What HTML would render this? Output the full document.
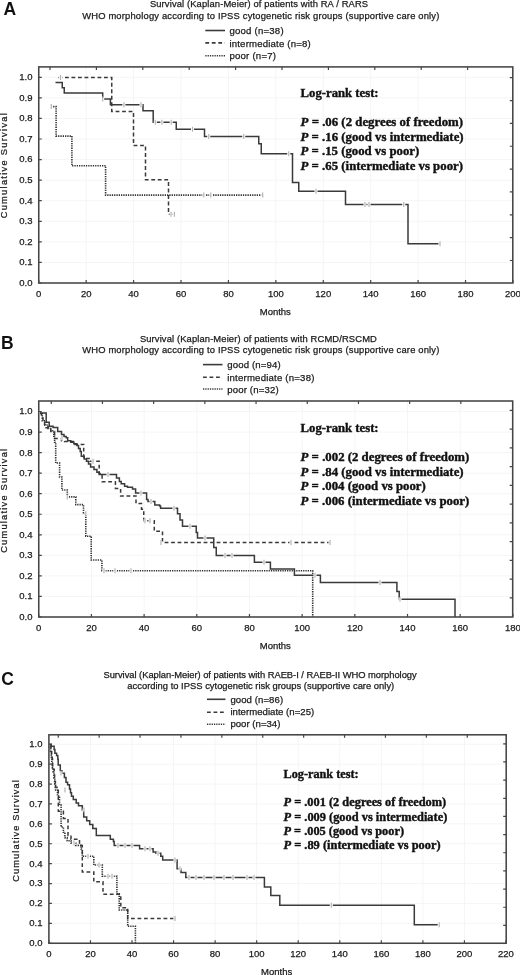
<!DOCTYPE html><html><head><meta charset="utf-8"><title>Kaplan-Meier survival</title><style>html,body{margin:0;padding:0;background:#fff;}body{width:520px;height:975px;overflow:hidden;}svg{display:block;}.ax{font-family:'Liberation Sans', Arial, sans-serif;font-size:9.5px;fill:#1a1a1a;stroke:#1a1a1a;stroke-width:0.25px;}.cs{font-family:'Liberation Sans', Arial, sans-serif;font-size:9.3px;fill:#1a1a1a;letter-spacing:1.3px;stroke:#1a1a1a;stroke-width:0.25px;}.tt{font-family:'Liberation Sans', Arial, sans-serif;font-size:9.4px;fill:#1a1a1a;stroke:#1a1a1a;stroke-width:0.25px;}.lg{font-family:'Liberation Sans', Arial, sans-serif;font-size:9.6px;fill:#1a1a1a;stroke:#1a1a1a;stroke-width:0.25px;}.lr{font-family:'Liberation Serif', 'Times New Roman', serif;font-size:13.1px;font-weight:bold;fill:#111;stroke:#111;stroke-width:0.4px;}.lrc{font-family:'Liberation Serif', 'Times New Roman', serif;font-size:12.8px;font-weight:bold;fill:#111;stroke:#111;stroke-width:0.4px;}.pl{font-family:'Liberation Sans', Arial, sans-serif;font-size:17.5px;font-weight:bold;fill:#111;}</style></head><body><svg width="520" height="975" viewBox="0 0 520 975"><rect width="520" height="975" fill="#fff"/>
<path d="M38.75 262.43H512.8M38.75 241.86H512.8M38.75 221.29H512.8M38.75 200.72H512.8M38.75 180.15H512.8M38.75 159.58H512.8M38.75 139.01H512.8M38.75 118.44H512.8M38.75 97.87H512.8M38.75 77.3H512.8M86.17 66.9V283M133.59 66.9V283M181.01 66.9V283M228.43 66.9V283M275.85 66.9V283M323.27 66.9V283M370.69 66.9V283M418.11 66.9V283M465.53 66.9V283" stroke="#f5f5f5" stroke-width="1" fill="none"/>
<path d="M38.75 283h3M38.75 262.43h3M38.75 241.86h3M38.75 221.29h3M38.75 200.72h3M38.75 180.15h3M38.75 159.58h3M38.75 139.01h3M38.75 118.44h3M38.75 97.87h3M38.75 77.3h3M38.75 283v-3M86.17 283v-3M133.59 283v-3M181.01 283v-3M228.43 283v-3M275.85 283v-3M323.27 283v-3M370.69 283v-3M418.11 283v-3M465.53 283v-3M512.95 283v-3M50 66.9v3M96.4 66.9v3M142.8 66.9v3M189.2 66.9v3M235.6 66.9v3M282 66.9v3M328.4 66.9v3M374.8 66.9v3M421.2 66.9v3M467.6 66.9v3M512.8 77.7h-3M512.8 100.55h-3M512.8 123.4h-3M512.8 146.25h-3M512.8 169.1h-3M512.8 191.95h-3M512.8 214.8h-3M512.8 237.65h-3M512.8 260.5h-3" stroke="#454545" stroke-width="1.2" fill="none"/>
<path d="M55.5 82.5H62.25V87.8H64.25V93.1H102.7V99.1H110.4V104.8H143V110.8H153.2V122.2H176.25V129.3H204.5V136.5H258.75V143.75H261.25V153.75H292.5V182.5H298.75V191.2H345.5V204.4H408V243.8H440" stroke="#3a3a3a" stroke-width="1.5" fill="none"/>
<path d="M58.5 77.6H111.75V111.5H133.5V145.5H145.5V179.8H168.5V214.3H174.4" stroke="#3a3a3a" stroke-width="1.5" fill="none" stroke-dasharray="3.8 2.7"/>
<path d="M50.8 106.6H56.1V136.1H71.9V165.8H105.6V195.1H262.7" stroke="#333" stroke-width="1.6" fill="none" stroke-dasharray="1.3 1"/>
<path d="M101.2 97.6h3v3h-3zM122.4 103.3h3v3h-3zM139.5 103.3h3v3h-3zM153.8 120.7h3v3h-3zM160.4 120.7h3v3h-3zM169.7 120.7h3v3h-3zM191 127.8h3v3h-3zM207.25 135h3v3h-3zM242.25 135h3v3h-3zM287.25 152.25h3v3h-3zM314.5 189.7h3v3h-3zM363.5 202.9h3v3h-3zM367.5 202.9h3v3h-3zM402.25 202.9h3v3h-3zM438.5 242.3h3v3h-3zM59 76.1h3v3h-3zM172.9 212.8h3v3h-3zM169.5 212.8h3v3h-3zM49.8 105.1h3v3h-3zM202.3 193.6h3v3h-3zM209.3 193.6h3v3h-3zM261.2 193.6h3v3h-3z" fill="#fff"/>
<path d="M102.7 96.6v5M123.9 102.3v5M141 102.3v5M155.3 119.7v5M161.9 119.7v5M171.2 119.7v5M192.5 126.8v5M208.75 134v5M243.75 134v5M288.75 151.25v5M316 188.7v5M365 201.9v5M369 201.9v5M403.75 201.9v5M440 241.3v5M60.5 75.1v5M174.4 211.8v5M171 211.8v5M51.3 104.1v5M203.8 192.6v5M210.8 192.6v5M262.7 192.6v5" stroke="#b4b4b4" stroke-width="1.2" fill="none"/>
<rect x="38.75" y="66.9" width="474.05" height="216.1" fill="none" stroke="#454545" stroke-width="1.55"/>
<text x="32.5" y="285.9" text-anchor="end" class="ax">0.0</text>
<text x="32.5" y="265.33" text-anchor="end" class="ax">0.1</text>
<text x="32.5" y="244.76" text-anchor="end" class="ax">0.2</text>
<text x="32.5" y="224.19" text-anchor="end" class="ax">0.3</text>
<text x="32.5" y="203.62" text-anchor="end" class="ax">0.4</text>
<text x="32.5" y="183.05" text-anchor="end" class="ax">0.5</text>
<text x="32.5" y="162.48" text-anchor="end" class="ax">0.6</text>
<text x="32.5" y="141.91" text-anchor="end" class="ax">0.7</text>
<text x="32.5" y="121.34" text-anchor="end" class="ax">0.8</text>
<text x="32.5" y="100.77" text-anchor="end" class="ax">0.9</text>
<text x="32.5" y="80.2" text-anchor="end" class="ax">1.0</text>
<text x="38.75" y="297" text-anchor="middle" class="ax">0</text>
<text x="86.17" y="297" text-anchor="middle" class="ax">20</text>
<text x="133.59" y="297" text-anchor="middle" class="ax">40</text>
<text x="181.01" y="297" text-anchor="middle" class="ax">60</text>
<text x="228.43" y="297" text-anchor="middle" class="ax">80</text>
<text x="275.85" y="297" text-anchor="middle" class="ax">100</text>
<text x="323.27" y="297" text-anchor="middle" class="ax">120</text>
<text x="370.69" y="297" text-anchor="middle" class="ax">140</text>
<text x="418.11" y="297" text-anchor="middle" class="ax">160</text>
<text x="465.53" y="297" text-anchor="middle" class="ax">180</text>
<text x="512.95" y="297" text-anchor="middle" class="ax">200</text>
<text x="275.3" y="315" text-anchor="middle" class="ax">Months</text>
<text transform="translate(7.4 165.1) rotate(-90)" text-anchor="middle" class="cs" textLength="106.5" lengthAdjust="spacing">Cumulative Survival</text>
<text x="3.5" y="15.1" class="pl">A</text>
<text x="149.9" y="7.4" class="tt" textLength="218.2" lengthAdjust="spacing">Survival (Kaplan-Meier) of patients with RA / RARS</text>
<text x="82.15" y="18.9" class="tt" textLength="357.2" lengthAdjust="spacing">WHO morphology according to IPSS cytogenetic risk groups (supportive care only)</text>
<text x="229.4" y="33.9" class="lg" textLength="54.2" lengthAdjust="spacing">good (n=38)</text>
<text x="229.4" y="46.5" class="lg" textLength="81.4" lengthAdjust="spacing">intermediate (n=8)</text>
<text x="229.4" y="58.6" class="lg" textLength="46.6" lengthAdjust="spacing">poor (n=7)</text>
<text x="300.6" y="97" class="lr" textLength="78" lengthAdjust="spacingAndGlyphs">Log-rank test:</text>
<text x="300.6" y="125.9" class="lr" textLength="162.4" lengthAdjust="spacingAndGlyphs"><tspan font-style="italic">P</tspan> = .06 (2 degrees of freedom)</text>
<text x="300.6" y="140.7" class="lr" textLength="163" lengthAdjust="spacingAndGlyphs"><tspan font-style="italic">P</tspan> = .16 (good vs intermediate)</text>
<text x="300.6" y="155.4" class="lr" textLength="118.6" lengthAdjust="spacingAndGlyphs"><tspan font-style="italic">P</tspan> = .15 (good vs poor)</text>
<text x="300.6" y="170" class="lr" textLength="162.4" lengthAdjust="spacingAndGlyphs"><tspan font-style="italic">P</tspan> = .65 (intermediate vs poor)</text>
<path d="M205.3 30.5H225" stroke="#3a3a3a" stroke-width="1.6"/>
<path d="M205.3 42.9H225" stroke="#3a3a3a" stroke-width="1.6" stroke-dasharray="3.8 2.7"/>
<path d="M205.3 55.8H225" stroke="#3a3a3a" stroke-width="1.6" stroke-dasharray="1.3 1"/>
<path d="M38.75 596.45H512.7M38.75 575.9H512.7M38.75 555.35H512.7M38.75 534.8H512.7M38.75 514.25H512.7M38.75 493.7H512.7M38.75 473.15H512.7M38.75 452.6H512.7M38.75 432.05H512.7M38.75 411.5H512.7M91.43 401V617M144.11 401V617M196.79 401V617M249.47 401V617M302.15 401V617M354.83 401V617M407.51 401V617M460.19 401V617" stroke="#f5f5f5" stroke-width="1" fill="none"/>
<path d="M38.75 617h3M38.75 596.45h3M38.75 575.9h3M38.75 555.35h3M38.75 534.8h3M38.75 514.25h3M38.75 493.7h3M38.75 473.15h3M38.75 452.6h3M38.75 432.05h3M38.75 411.5h3M38.75 617v-3M91.43 617v-3M144.11 617v-3M196.79 617v-3M249.47 617v-3M302.15 617v-3M354.83 617v-3M407.51 617v-3M460.19 617v-3M512.87 617v-3M51.25 401v3M102.45 401v3M153.65 401v3M204.85 401v3M256.05 401v3M307.25 401v3M358.45 401v3M409.65 401v3M460.85 401v3M512.7 410.3h-3M512.7 429.06h-3M512.7 447.82h-3M512.7 466.58h-3M512.7 485.34h-3M512.7 504.1h-3M512.7 522.86h-3M512.7 541.62h-3M512.7 560.38h-3M512.7 579.14h-3M512.7 597.9h-3" stroke="#454545" stroke-width="1.2" fill="none"/>
<path d="M40.3 413H46.2V422.3H49.2V426.2H53.1V427.5H57.7V431.5H61.5V434.6H64V436.5H66.2V437.7H67.7V440.8H70.8V442.3H73.8V443.8H76.9V445.4H78.5V448.5H80.2V451.5H81.3V456.2H84.2V459H86.5V461.3H88.5V464H90.6V467.1H94V469.4H96.9V472.3H99.2V474.6H116.5V478.1H119.4V481.5H121.2V483.8H124.6V486.2H127.5V487.3H132.5V489H135.6V492.9H146.6V499.6H148V501.5H154.8V505H159.6V505.9H160.6V508.3H177.5V513.75H180V520H182.5V526.25H196.25V532.5H197.5V538H213.75V547.5H216.25V555.5H254.4V562.3H270.4V569H294.4V575.2H320.4V582.6H396.9V591.5H399.2V599.2H455V617" stroke="#3a3a3a" stroke-width="1.5" fill="none"/>
<path d="M40 413.5H41.5V418H43V422H44.6V427.7H50.8V431.5H54.6V438.5H61.5V440.8H64.6V441.5H73.4V443.8H75V444.4H83.7V458.5H90V461.3H99.2V473.5H102.1V481.8H115.4V488.5H120.6V496H136V503.5H141.5V509.2H143.75V520.8H154.3V531.3H162.5V542.4H330" stroke="#3a3a3a" stroke-width="1.5" fill="none" stroke-dasharray="3.8 2.7"/>
<path d="M40 413H42.3V420.8H45V425H48V428.5H50.8V430.8H53.8V436.2H54.6V442.3H55.7V463H59.6V477H61.9V490H67.3V496.9H75.8V504.6H83.5V513.8H85.8V536.2H91.2V560H101.9V570.8H312.7V617" stroke="#333" stroke-width="1.6" fill="none" stroke-dasharray="1.3 1"/>
<path d="M65.8 495.4h3v3h-3zM84.3 512.3h3v3h-3zM102.5 569.3h3v3h-3zM113.5 569.3h3v3h-3zM129.5 569.3h3v3h-3zM289.5 540.9h3v3h-3zM328.5 540.9h3v3h-3zM159.5 540.9h3v3h-3zM172.5 506.8h3v3h-3zM188.5 524.75h3v3h-3zM203.5 536.5h3v3h-3zM223.5 554h3v3h-3zM230.5 554h3v3h-3zM262.5 560.8h3v3h-3zM313.5 573.7h3v3h-3zM378.5 581.1h3v3h-3zM398.5 597.7h3v3h-3zM139.5 491.4h3v3h-3zM149.5 500h3v3h-3zM143.5 519.3h3v3h-3zM148.5 519.3h3v3h-3zM106.5 473.1h3v3h-3zM91.5 459.8h3v3h-3zM60.5 437h3v3h-3z" fill="#fff"/>
<path d="M67.3 494.4v5M85.8 511.3v5M104 568.3v5M115 568.3v5M131 568.3v5M291 539.9v5M330 539.9v5M161 539.9v5M174 505.8v5M190 523.75v5M205 535.5v5M225 553v5M232 553v5M264 559.8v5M315 572.7v5M380 580.1v5M400 596.7v5M141 490.4v5M151 499v5M145 518.3v5M150 518.3v5M108 472.1v5M93 458.8v5M62 436v5" stroke="#b4b4b4" stroke-width="1.2" fill="none"/>
<rect x="38.75" y="401" width="473.95" height="216" fill="none" stroke="#454545" stroke-width="1.55"/>
<text x="32.5" y="619.9" text-anchor="end" class="ax">0.0</text>
<text x="32.5" y="599.35" text-anchor="end" class="ax">0.1</text>
<text x="32.5" y="578.8" text-anchor="end" class="ax">0.2</text>
<text x="32.5" y="558.25" text-anchor="end" class="ax">0.3</text>
<text x="32.5" y="537.7" text-anchor="end" class="ax">0.4</text>
<text x="32.5" y="517.15" text-anchor="end" class="ax">0.5</text>
<text x="32.5" y="496.6" text-anchor="end" class="ax">0.6</text>
<text x="32.5" y="476.05" text-anchor="end" class="ax">0.7</text>
<text x="32.5" y="455.5" text-anchor="end" class="ax">0.8</text>
<text x="32.5" y="434.95" text-anchor="end" class="ax">0.9</text>
<text x="32.5" y="414.4" text-anchor="end" class="ax">1.0</text>
<text x="38.75" y="630.5" text-anchor="middle" class="ax">0</text>
<text x="91.43" y="630.5" text-anchor="middle" class="ax">20</text>
<text x="144.11" y="630.5" text-anchor="middle" class="ax">40</text>
<text x="196.79" y="630.5" text-anchor="middle" class="ax">60</text>
<text x="249.47" y="630.5" text-anchor="middle" class="ax">80</text>
<text x="302.15" y="630.5" text-anchor="middle" class="ax">100</text>
<text x="354.83" y="630.5" text-anchor="middle" class="ax">120</text>
<text x="407.51" y="630.5" text-anchor="middle" class="ax">140</text>
<text x="460.19" y="630.5" text-anchor="middle" class="ax">160</text>
<text x="512.87" y="630.5" text-anchor="middle" class="ax">180</text>
<text x="275.3" y="649.3" text-anchor="middle" class="ax">Months</text>
<text transform="translate(7.4 500.2) rotate(-90)" text-anchor="middle" class="cs" textLength="105.3" lengthAdjust="spacing">Cumulative Survival</text>
<text x="1" y="348.7" class="pl">B</text>
<text x="139.9" y="342" class="tt" textLength="236.95" lengthAdjust="spacing">Survival (Kaplan-Meier) of patients with RCMD/RSCMD</text>
<text x="82.15" y="352.6" class="tt" textLength="357.2" lengthAdjust="spacing">WHO morphology according to IPSS cytogenetic risk groups (supportive care only)</text>
<text x="227.2" y="367.9" class="lg" textLength="53.5" lengthAdjust="spacing">good (n=94)</text>
<text x="227.2" y="380.6" class="lg" textLength="87.2" lengthAdjust="spacing">intermediate (n=38)</text>
<text x="227.2" y="392.5" class="lg" textLength="51.4" lengthAdjust="spacing">poor (n=32)</text>
<text x="300.6" y="432.2" class="lr" textLength="78" lengthAdjust="spacingAndGlyphs">Log-rank test:</text>
<text x="300.6" y="461.1" class="lr" textLength="168.7" lengthAdjust="spacingAndGlyphs"><tspan font-style="italic">P</tspan> = .002 (2 degrees of freedom)</text>
<text x="300.6" y="475.7" class="lr" textLength="163" lengthAdjust="spacingAndGlyphs"><tspan font-style="italic">P</tspan> = .84 (good vs intermediate)</text>
<text x="300.6" y="490.4" class="lr" textLength="125.2" lengthAdjust="spacingAndGlyphs"><tspan font-style="italic">P</tspan> = .004 (good vs poor)</text>
<text x="300.6" y="505.1" class="lr" textLength="168.7" lengthAdjust="spacingAndGlyphs"><tspan font-style="italic">P</tspan> = .006 (intermediate vs poor)</text>
<path d="M203 364.6H222.5" stroke="#3a3a3a" stroke-width="1.6"/>
<path d="M203 377.3H222.5" stroke="#3a3a3a" stroke-width="1.6" stroke-dasharray="3.8 2.7"/>
<path d="M203 389H222.5" stroke="#3a3a3a" stroke-width="1.6" stroke-dasharray="1.3 1"/>
<path d="M48.9 923.35H506.2M48.9 903.45H506.2M48.9 883.55H506.2M48.9 863.65H506.2M48.9 843.75H506.2M48.9 823.85H506.2M48.9 803.95H506.2M48.9 784.05H506.2M48.9 764.15H506.2M48.9 744.25H506.2M90.45 734.8V943.25M132.01 734.8V943.25M173.56 734.8V943.25M215.12 734.8V943.25M256.67 734.8V943.25M298.22 734.8V943.25M339.78 734.8V943.25M381.33 734.8V943.25M422.89 734.8V943.25M464.44 734.8V943.25" stroke="#f5f5f5" stroke-width="1" fill="none"/>
<path d="M48.9 943.25h3M48.9 923.35h3M48.9 903.45h3M48.9 883.55h3M48.9 863.65h3M48.9 843.75h3M48.9 823.85h3M48.9 803.95h3M48.9 784.05h3M48.9 764.15h3M48.9 744.25h3M48.9 943.25v-3M90.45 943.25v-3M132.01 943.25v-3M173.56 943.25v-3M215.12 943.25v-3M256.67 943.25v-3M298.22 943.25v-3M339.78 943.25v-3M381.33 943.25v-3M422.89 943.25v-3M464.44 943.25v-3M505.99 943.25v-3M58.25 734.8v3M99.15 734.8v3M140.05 734.8v3M180.95 734.8v3M221.85 734.8v3M262.75 734.8v3M303.65 734.8v3M344.55 734.8v3M385.45 734.8v3M426.35 734.8v3M467.25 734.8v3M506.2 743.8h-3M506.2 761.96h-3M506.2 780.12h-3M506.2 798.28h-3M506.2 816.44h-3M506.2 834.6h-3M506.2 852.76h-3M506.2 870.92h-3M506.2 889.08h-3M506.2 907.24h-3M506.2 925.4h-3" stroke="#454545" stroke-width="1.2" fill="none"/>
<path d="M49.3 744.2H51.2V746.2H54.1V749.5H54.9V753.2H56.6V755.6H57.8V759.3H58.2V765H60.3V770.8H61.9V773.3H64.4V777.4H66V782.3H67.6V784.8H69.5V788.9H70.5V792.7H71.5V796.2H73.3V799.6H76.2V803H78.5V805.7H82.3V810H83.7V816.9H86.7V820.8H89.7V824.6H92.8V828.5H96.3V835.4H110.3V839.2H113.4V841.5H114.2V845.6H139.6V848.8H153.1V851.9H156V853.3H160.8V856.2H162.7V860H177.1V868.7H181V872.5H185.8V877.5H264.4V886.9H270.8V895.6H279.8V905.2H414.3V924.7H439.2" stroke="#3a3a3a" stroke-width="1.5" fill="none"/>
<path d="M50 746H51V750H51.7V754.4H52.2V759.3H52.6V766.7H53.4V769.2H54.2V774.9H54.6V781.5H55.4V787.2H57V790.5H58.3V811.3H63.4V818.5H68V835.4H71V839.2H79.5V845.4H82.3V872H93.8V881.8H103V894.2H120.8V907.7H127.7V918.5H175" stroke="#3a3a3a" stroke-width="1.5" fill="none" stroke-dasharray="3.8 2.7"/>
<path d="M49.5 747H50.5V752H51.2V757H51.8V763H52.4V768H53.2V772H54V778H54.8V784H55.6V790H57.5V796H59.5V805H61.1V827H63.4V832.3H64.9V837.7H67.2V840.8H71V843H75.7V845.4H81.1V849H82.3V856.2H93.8V865H102.3V876.2H116.9V893.8H119.2V910H127.7V926.2H135.4V943" stroke="#333" stroke-width="1.6" fill="none" stroke-dasharray="1.3 1"/>
<path d="M116.5 844.1h3v3h-3zM123.5 844.1h3v3h-3zM130.5 844.1h3v3h-3zM143.5 847.3h3v3h-3zM148.5 847.3h3v3h-3zM156.5 851.8h3v3h-3zM173.5 858.5h3v3h-3zM178.5 867.2h3v3h-3zM187.5 876h3v3h-3zM194.5 876h3v3h-3zM202.5 876h3v3h-3zM212.5 876h3v3h-3zM222.5 876h3v3h-3zM231.5 876h3v3h-3zM245.5 876h3v3h-3zM252.5 876h3v3h-3zM329.8 903.7h3v3h-3zM437.7 923.2h3v3h-3zM173.5 917h3v3h-3zM97.5 863.5h3v3h-3zM106.5 874.7h3v3h-3zM110.5 874.7h3v3h-3zM86.5 854.7h3v3h-3zM72.5 841.5h3v3h-3zM59.5 771.5h3v3h-3zM63.5 788.5h3v3h-3zM82.5 808.5h3v3h-3z" fill="#fff"/>
<path d="M118 843.1v5M125 843.1v5M132 843.1v5M145 846.3v5M150 846.3v5M158 850.8v5M175 857.5v5M180 866.2v5M189 875v5M196 875v5M204 875v5M214 875v5M224 875v5M233 875v5M247 875v5M254 875v5M331.3 902.7v5M439.2 922.2v5M175 916v5M99 862.5v5M108 873.7v5M112 873.7v5M88 853.7v5M74 840.5v5M61 770.5v5M65 787.5v5M84 807.5v5" stroke="#b4b4b4" stroke-width="1.2" fill="none"/>
<rect x="48.9" y="734.8" width="457.3" height="208.45" fill="none" stroke="#454545" stroke-width="1.55"/>
<text x="42.5" y="946.15" text-anchor="end" class="ax">0.0</text>
<text x="42.5" y="926.25" text-anchor="end" class="ax">0.1</text>
<text x="42.5" y="906.35" text-anchor="end" class="ax">0.2</text>
<text x="42.5" y="886.45" text-anchor="end" class="ax">0.3</text>
<text x="42.5" y="866.55" text-anchor="end" class="ax">0.4</text>
<text x="42.5" y="846.65" text-anchor="end" class="ax">0.5</text>
<text x="42.5" y="826.75" text-anchor="end" class="ax">0.6</text>
<text x="42.5" y="806.85" text-anchor="end" class="ax">0.7</text>
<text x="42.5" y="786.95" text-anchor="end" class="ax">0.8</text>
<text x="42.5" y="767.05" text-anchor="end" class="ax">0.9</text>
<text x="42.5" y="747.15" text-anchor="end" class="ax">1.0</text>
<text x="48.9" y="956.6" text-anchor="middle" class="ax">0</text>
<text x="90.45" y="956.6" text-anchor="middle" class="ax">20</text>
<text x="132.01" y="956.6" text-anchor="middle" class="ax">40</text>
<text x="173.56" y="956.6" text-anchor="middle" class="ax">60</text>
<text x="215.12" y="956.6" text-anchor="middle" class="ax">80</text>
<text x="256.67" y="956.6" text-anchor="middle" class="ax">100</text>
<text x="298.22" y="956.6" text-anchor="middle" class="ax">120</text>
<text x="339.78" y="956.6" text-anchor="middle" class="ax">140</text>
<text x="381.33" y="956.6" text-anchor="middle" class="ax">160</text>
<text x="422.89" y="956.6" text-anchor="middle" class="ax">180</text>
<text x="464.44" y="956.6" text-anchor="middle" class="ax">200</text>
<text x="505.99" y="956.6" text-anchor="middle" class="ax">220</text>
<text x="276.6" y="974.5" text-anchor="middle" class="ax">Months</text>
<text transform="translate(19.4 830.3) rotate(-90)" text-anchor="middle" class="cs" textLength="103.1" lengthAdjust="spacing">Cumulative Survival</text>
<text x="1.2" y="684.9" class="pl">C</text>
<text x="103.45" y="677.5" class="tt" textLength="313.25" lengthAdjust="spacing">Survival (Kaplan-Meier) of patients with RAEB-I / RAEB-II WHO morphology</text>
<text x="127.3" y="688.6" class="tt" textLength="266.9" lengthAdjust="spacing">according to IPSS cytogenetic risk groups (supportive care only)</text>
<text x="230.4" y="703.1" class="lg" textLength="52.7" lengthAdjust="spacing">good (n=86)</text>
<text x="230.4" y="715.4" class="lg" textLength="83.8" lengthAdjust="spacing">intermediate (n=25)</text>
<text x="230.4" y="726.5" class="lg" textLength="50" lengthAdjust="spacing">poor (n=34)</text>
<text x="283.5" y="778.4" class="lrc" textLength="75.1" lengthAdjust="spacingAndGlyphs">Log-rank test:</text>
<text x="283.5" y="806.3" class="lrc" textLength="162.7" lengthAdjust="spacingAndGlyphs"><tspan font-style="italic">P</tspan> = .001 (2 degrees of freedom)</text>
<text x="283.5" y="820.8" class="lrc" textLength="163.8" lengthAdjust="spacingAndGlyphs"><tspan font-style="italic">P</tspan> = .009 (good vs intermediate)</text>
<text x="283.5" y="835.3" class="lrc" textLength="120.5" lengthAdjust="spacingAndGlyphs"><tspan font-style="italic">P</tspan> = .005 (good vs poor)</text>
<text x="283.5" y="849.4" class="lrc" textLength="157.1" lengthAdjust="spacingAndGlyphs"><tspan font-style="italic">P</tspan> = .89 (intermediate vs poor)</text>
<path d="M207 699.3H225.5" stroke="#3a3a3a" stroke-width="1.6"/>
<path d="M207 712.3H225.5" stroke="#3a3a3a" stroke-width="1.6" stroke-dasharray="3.8 2.7"/>
<path d="M207 724.3H225.5" stroke="#3a3a3a" stroke-width="1.6" stroke-dasharray="1.3 1"/>
</svg></body></html>
